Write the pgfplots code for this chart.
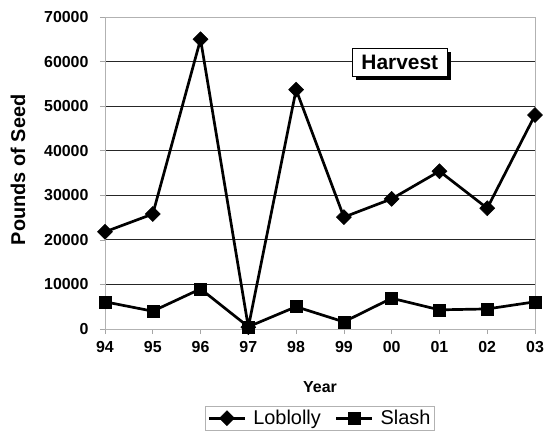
\documentclass[border=0pt]{standalone}
\usepackage{fontspec}
\setmainfont{Liberation Sans}
\usepackage{pgfplots}
\pgfplotsset{compat=1.18}
\usetikzlibrary{shadows}

\begin{document}
\begin{tikzpicture}
\useasboundingbox (-105bp,-103bp) rectangle (441bp,329bp);
\begin{axis}[
    at={(0,0)}, anchor=south west,
    scale only axis, width=430bp, height=312bp,
    xmin=0, xmax=9, ymin=0, ymax=70000,
    xtick={0,...,9},
    xticklabels={94,95,96,97,98,99,00,01,02,03},
    ytick={0,10000,...,70000},
    scaled y ticks=false,
    /pgf/number format/assume math mode=true,
    /pgf/number format/set thousands separator={},
    tick label style={font=\fontsize{16}{18}\selectfont\bfseries},
    yticklabel style={xshift=-8bp},
    xticklabel style={yshift=-4bp},
    tick align=outside, major tick length=5bp,
    tick style={gray!70, line width=0.6bp},
    xtick pos=bottom, ytick pos=left,
    axis line style={gray!60, line width=0.8bp},
    ymajorgrids, grid style={black!85, line width=0.8bp},
    xlabel={Year}, ylabel={Pounds of Seed},
    xlabel style={font=\fontsize{16}{18}\selectfont\bfseries, at={(axis description cs:0.5,0)}, anchor=center, yshift=-58bp},
    ylabel style={font=\fontsize{20}{22}\selectfont\bfseries, at={(axis description cs:-0.2023,0.51)}, anchor=center},
    legend columns=2,
    legend style={at={(axis description cs:0.5,0)}, anchor=north, yshift=-77bp,
        draw=gray!60, font=\fontsize{20}{22}\selectfont, inner sep=2bp,
        /tikz/every odd column/.append style={column sep=5bp},
        /tikz/every even column/.append style={column sep=12bp}},
    legend image code/.code={\draw[mark repeat=2,mark phase=2] plot coordinates {(0bp,0bp) (18bp,0bp) (36bp,0bp)};},
    clip=false,
]
\addplot[black, line width=2.7bp, mark=square*, mark size=5.3bp,
    mark options={rotate=45, line width=0.5bp, fill=black}]
  coordinates {(0,21800)(1,25800)(2,65000)(3,400)(4,53700)(5,25100)(6,29200)(7,35400)(8,27100)(9,48000)};
\addlegendentry{Loblolly}
\addplot[black, line width=2.7bp, mark=square*, mark size=6bp,
    mark options={line width=0.5bp, fill=black}]
  coordinates {(0,6100)(1,4000)(2,9000)(3,500)(4,5000)(5,1600)(6,6900)(7,4300)(8,4500)(9,6100)};
\addlegendentry{Slash}
\node[draw=black, line width=0.8bp, fill=white, inner xsep=9bp, inner ysep=7bp,
    font=\fontsize{21}{23}\selectfont\bfseries,
    drop shadow={shadow xshift=3.5bp, shadow yshift=-3.5bp, fill=black, opacity=1}]
    at (axis cs:6.17,59800) {Harvest};
\end{axis}
\end{tikzpicture}
\end{document}
